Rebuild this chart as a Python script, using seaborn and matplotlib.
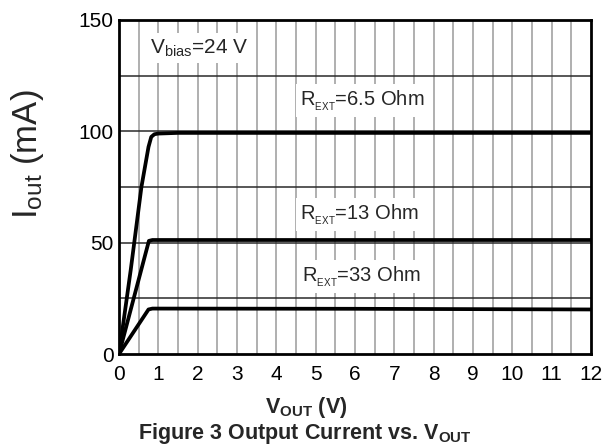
import matplotlib
matplotlib.use("Agg")
import matplotlib.pyplot as plt
import seaborn as sns
import pandas as pd
import numpy as np

# Data
v_65 = [0.0, 0.30, 0.57, 0.75, 0.82, 0.90, 1.0, 1.5, 12.0]
i_65 = [0.0, 38.0, 75.0, 93.0, 97.5, 98.7, 99.0, 99.3, 99.3]
v_13 = [0.0, 0.76, 0.85, 12.0]
i_13 = [0.0, 50.8, 51.2, 51.2]
v_33 = [0.0, 0.75, 0.85, 6.0, 12.0]
i_33 = [0.0, 20.0, 20.4, 20.3, 20.0]
series_names = ["6.5 Ohm", "13 Ohm", "33 Ohm"]
x_ticks = list(range(0, 13))
y_ticks = [0, 50, 100, 150]

sns.set_theme(style="white")
plt.rcParams['font.family'] = ['Liberation Sans', 'DejaVu Sans']
plt.rcParams['mathtext.fontset'] = 'custom'
plt.rcParams['mathtext.rm'] = 'Liberation Sans'
plt.rcParams['mathtext.it'] = 'Liberation Sans:italic'
plt.rcParams['mathtext.bf'] = 'Liberation Sans:bold'

df = pd.concat([
    pd.DataFrame({"V": v_65, "I": i_65, "R": series_names[0]}),
    pd.DataFrame({"V": v_13, "I": i_13, "R": series_names[1]}),
    pd.DataFrame({"V": v_33, "I": i_33, "R": series_names[2]}),
])

fig = plt.figure(figsize=(6.05, 4.47), dpi=100)
ax = fig.add_axes([119/605, 1-354/447, (591-119)/605, (354-20)/447])

# grid
for xv in np.arange(0.5, 12, 0.5):
    ax.axvline(xv, color='#9a9a9a', lw=1.1, zorder=0)
for yv in [25, 50, 75, 100, 125]:
    ax.axhline(yv, color='#2a2a2a', lw=1.1, zorder=0)

sns.lineplot(data=df, x="V", y="I", units="R", estimator=None, color='black',
             lw=2.7, ax=ax, legend=False, sort=False, zorder=3)

ax.set_xlim(0, 12)
ax.set_ylim(0, 150)
ax.set_xticks(x_ticks)
ax.set_yticks(y_ticks)
ax.tick_params(axis='both', length=0, labelsize=15, colors='black', pad=4)
ax.tick_params(axis='x', pad=8)
for s in ax.spines.values():
    s.set_visible(True)
    s.set_color('black')
    s.set_linewidth(2)
ax.set_xlabel("")
ax.set_ylabel("")

bbox = dict(facecolor='white', edgecolor='none', pad=3)
ax.text(0.8, 135, r'$\mathrm{V_{bias}}$=24 V', fontsize=15, va='baseline', ha='left', bbox=bbox, zorder=2)
ax.text(4.6, 111.6, r'$\mathrm{R_{_{EXT}}}$=6.5 Ohm', fontsize=14.5, va='baseline', ha='left', bbox=bbox, zorder=2)
ax.text(4.6, 60.5, r'$\mathrm{R_{_{EXT}}}$=13 Ohm', fontsize=14.5, va='baseline', ha='left', bbox=bbox, zorder=2)
ax.text(4.65, 32.7, r'$\mathrm{R_{_{EXT}}}$=33 Ohm', fontsize=14.5, va='baseline', ha='left', bbox=bbox, zorder=2)

fig.text(28/605, 1-154/447, r'$\mathrm{I_{out}}$ (mA)', fontsize=25, rotation=90, ha='center', va='center')
fig.text(306/605, 1-407/447, r'$\mathbf{V_{OUT}}$ (V)', fontsize=15.5, fontweight='bold', ha='center', va='center')
fig.text(305/605, 1-433/447, r'Figure 3 Output Current vs. $\mathbf{V_{OUT}}$', fontsize=15.5, fontweight='bold', ha='center', va='center')

fig.savefig("out.png", dpi=100)
